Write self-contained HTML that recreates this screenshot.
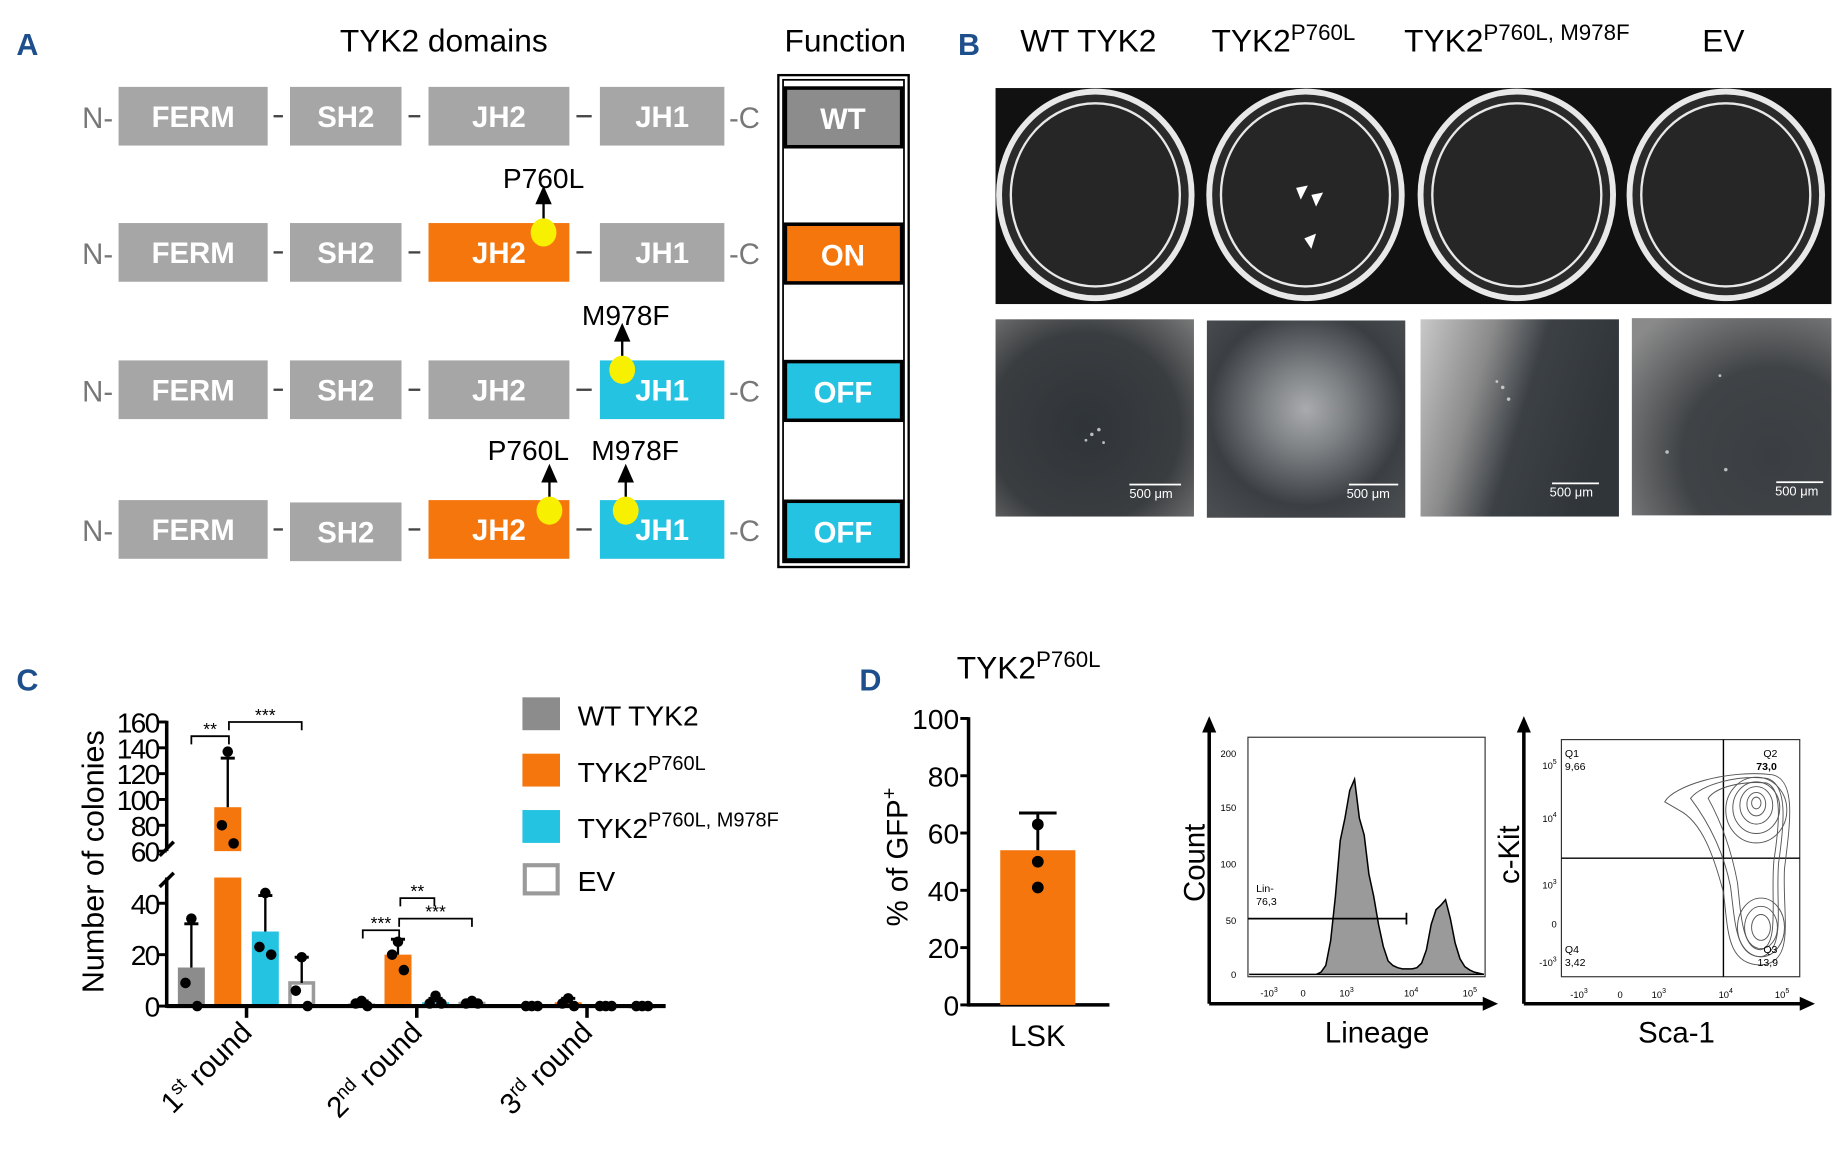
<!DOCTYPE html>
<html><head><meta charset="utf-8">
<style>
html,body{margin:0;padding:0;background:#fff;}
svg{display:block;font-family:"Liberation Sans",Arial,sans-serif;}
.lbl{font-weight:bold;fill:#1d4f8c;font-size:26px;}
.dom{fill:#fff;font-weight:bold;font-size:25px;text-anchor:middle;}
.nc{fill:#777;font-size:25px;}
.hd{font-size:27px;fill:#000;}
</style></head><body>
<svg id="fig" width="1842" height="1154" viewBox="0 0 1569 983" preserveAspectRatio="none">
<defs>
<radialGradient id="mg1" cx="0.45" cy="0.55" r="0.8"><stop offset="0" stop-color="#2f3438"/><stop offset="0.6" stop-color="#3a3d40"/><stop offset="1" stop-color="#7d7d7d"/></radialGradient>
<radialGradient id="mg2" cx="0.5" cy="0.45" r="0.7"><stop offset="0" stop-color="#a9abae"/><stop offset="0.3" stop-color="#7e8184"/><stop offset="0.7" stop-color="#3b3f43"/><stop offset="1" stop-color="#4a4d50"/></radialGradient>
<linearGradient id="mg3" x1="0" y1="0" x2="1" y2="0.3"><stop offset="0" stop-color="#c8c8c8"/><stop offset="0.35" stop-color="#8a8a8a"/><stop offset="0.6" stop-color="#3c4146"/><stop offset="1" stop-color="#30353a"/></linearGradient>
<radialGradient id="mg4" cx="0.7" cy="0.7" r="0.9"><stop offset="0" stop-color="#3a3e42"/><stop offset="0.5" stop-color="#404346"/><stop offset="1" stop-color="#8a8a8a"/></radialGradient>
</defs>

<!-- Panel A -->
<g>
<text x="14" y="47" class="lbl">A</text>
<text x="378" y="44" class="hd" text-anchor="middle">TYK2 domains</text>
<text x="720" y="44" class="hd" text-anchor="middle">Function</text>
<rect x="663" y="64" width="111" height="419" fill="none" stroke="#000" stroke-width="2"/>
<rect x="667" y="68" width="103" height="411" fill="none" stroke="#000" stroke-width="1.5"/>
<g id="rows"></g>
</g>

<!-- Panel B -->
<g>
<text x="816" y="47" class="lbl">B</text>
<text x="927" y="44" class="hd" text-anchor="middle">WT TYK2</text>
<text x="1032" y="44" class="hd">TYK2<tspan dy="-10" font-size="19">P760L</tspan></text>
<text x="1196" y="44" class="hd">TYK2<tspan dy="-10" font-size="19">P760L, M978F</tspan></text>
<text x="1468" y="44" class="hd" text-anchor="middle">EV</text>
<rect x="848" y="75" width="712" height="184" fill="#111"/>
<g fill="#2a2a2a" stroke="#e8e8e8">
<ellipse cx="933" cy="166" rx="82" ry="88" stroke-width="5"/><ellipse cx="933" cy="166" rx="72" ry="78" stroke-width="2" fill="#262626"/>
<ellipse cx="1112" cy="166" rx="82" ry="88" stroke-width="5"/><ellipse cx="1112" cy="166" rx="72" ry="78" stroke-width="2" fill="#262626"/>
<ellipse cx="1292" cy="166" rx="82" ry="88" stroke-width="5"/><ellipse cx="1292" cy="166" rx="72" ry="78" stroke-width="2" fill="#262626"/>
<ellipse cx="1470" cy="166" rx="82" ry="88" stroke-width="5"/><ellipse cx="1470" cy="166" rx="72" ry="78" stroke-width="2" fill="#262626"/>
</g>
<g fill="#fff"><polygon points="1104,160 1114,158 1108,170"/><polygon points="1117,166 1127,164 1121,176"/><polygon points="1111,203 1121,199 1117,212"/></g>
<rect x="848" y="272" width="169" height="168" fill="url(#mg1)"/>
<rect x="1028" y="273" width="169" height="168" fill="url(#mg2)"/>
<rect x="1210" y="272" width="169" height="168" fill="url(#mg3)"/>
<rect x="1390" y="271" width="170" height="168" fill="url(#mg4)"/>
<g fill="#ddd" opacity="0.8"><circle cx="930" cy="370" r="1.5"/><circle cx="936" cy="366" r="1.5"/><circle cx="925" cy="375" r="1.2"/><circle cx="940" cy="377" r="1.2"/><circle cx="1280" cy="330" r="1.5"/><circle cx="1285" cy="340" r="1.5"/><circle cx="1275" cy="325" r="1.2"/><circle cx="1420" cy="385" r="1.5"/><circle cx="1470" cy="400" r="1.5"/><circle cx="1465" cy="320" r="1.2"/></g>
<g fill="#fff" font-size="11"><rect x="962" y="412" width="44" height="1.5"/><text x="962" y="424">500 μm</text>
<rect x="1149" y="412" width="42" height="1.5"/><text x="1147" y="424">500 μm</text>
<rect x="1322" y="411" width="40" height="1.5"/><text x="1320" y="423">500 μm</text>
<rect x="1513" y="410" width="40" height="1.5"/><text x="1512" y="422">500 μm</text></g>
</g>

<!-- Panel C -->
<g id="panelC">
<text x="14" y="588" class="lbl">C</text>
<text transform="translate(88,734) rotate(-90)" font-size="26" text-anchor="middle">Number of colonies</text>
<g id="legendC" font-size="24"></g>
</g>

<!-- Panel D -->
<g id="panelD">
<text x="732" y="588" class="lbl">D</text>
<text x="815" y="578" class="hd" font-size="26">TYK2<tspan dy="-10" font-size="19">P760L</tspan></text>
<text transform="translate(773,730) rotate(-90)" font-size="25" text-anchor="middle">% of GFP<tspan dy="-10" font-size="17">+</tspan></text>
</g>

<!-- Flow histogram -->
<g id="flowHist">
<line x1="1030" y1="855" x2="1030" y2="622" stroke="#000" stroke-width="3"/><polygon points="1024,624 1036,624 1030,610" fill="#000"/>
<line x1="1030" y1="855" x2="1265" y2="855" stroke="#000" stroke-width="3"/><polygon points="1263,849 1263,861 1276,855" fill="#000"/>
<rect x="1063" y="628" width="202" height="204" fill="none" stroke="#333" stroke-width="1"/>
<text transform="translate(1026,735) rotate(-90)" font-size="25" text-anchor="middle">Count</text>
<text x="1173" y="888" font-size="25" text-anchor="middle">Lineage</text>
<g font-size="8" text-anchor="end"><text x="1053" y="645">200</text><text x="1053" y="691">150</text><text x="1053" y="739">100</text><text x="1053" y="787">50</text><text x="1053" y="833">0</text></g>
<g font-size="8" text-anchor="middle"><text x="1081" y="849">-10<tspan dy="-4" font-size="6">3</tspan></text><text x="1110" y="849">0</text><text x="1147" y="849">10<tspan dy="-4" font-size="6">3</tspan></text><text x="1202" y="849">10<tspan dy="-4" font-size="6">4</tspan></text><text x="1252" y="849">10<tspan dy="-4" font-size="6">5</tspan></text></g>
<text x="1070" y="760" font-size="9">Lin-</text><text x="1070" y="771" font-size="9">76,3</text>
</g>

<!-- Contour plot -->
<g>
<line x1="1298" y1="855" x2="1298" y2="622" stroke="#000" stroke-width="3"/><polygon points="1292,624 1304,624 1298,610" fill="#000"/>
<line x1="1298" y1="855" x2="1535" y2="855" stroke="#000" stroke-width="3"/><polygon points="1533,849 1533,861 1546,855" fill="#000"/>
<rect x="1330" y="630" width="203" height="202" fill="none" stroke="#333" stroke-width="1"/>
<line x1="1468" y1="630" x2="1468" y2="832" stroke="#000" stroke-width="1.2"/>
<line x1="1330" y1="731" x2="1533" y2="731" stroke="#000" stroke-width="1.2"/>
<g fill="none" stroke="#555" stroke-width="0.8">
<path d="M1418,683 C1425,670 1470,655 1510,660 C1530,665 1525,700 1520,740 C1518,780 1530,820 1500,822 C1470,822 1472,790 1468,760 C1460,730 1450,700 1430,690 Z"/>
<path d="M1440,680 C1450,668 1480,660 1505,663 C1523,668 1520,700 1515,735 C1512,770 1522,810 1500,815 C1478,815 1478,785 1474,755 C1468,725 1455,700 1440,680 Z"/>
<path d="M1455,680 C1462,670 1485,665 1505,667 C1518,672 1516,700 1511,733 C1508,765 1516,805 1500,809 C1484,809 1483,780 1480,752 C1475,725 1466,700 1455,680 Z"/>
<ellipse cx="1496" cy="690" rx="26" ry="28"/><ellipse cx="1496" cy="688" rx="20" ry="22"/><ellipse cx="1496" cy="686" rx="14" ry="16"/><ellipse cx="1496" cy="685" rx="8" ry="10"/><ellipse cx="1496" cy="684" rx="4" ry="5"/>
<ellipse cx="1500" cy="790" rx="20" ry="25"/><ellipse cx="1500" cy="790" rx="14" ry="18"/><ellipse cx="1500" cy="790" rx="8" ry="11"/>
</g>
<text transform="translate(1294,728) rotate(-90)" font-size="25" text-anchor="middle">c-Kit</text>
<text x="1428" y="888" font-size="25" text-anchor="middle">Sca-1</text>
<g font-size="9"><text x="1333" y="645">Q1</text><text x="1333" y="656">9,66</text><text x="1502" y="645">Q2</text><text x="1496" y="656" font-weight="bold">73,0</text><text x="1333" y="812">Q4</text><text x="1333" y="823">3,42</text><text x="1502" y="812">Q3</text><text x="1497" y="823">13,9</text></g>
<g font-size="8" text-anchor="end"><text x="1326" y="655">10<tspan dy="-4" font-size="6">5</tspan></text><text x="1326" y="700">10<tspan dy="-4" font-size="6">4</tspan></text><text x="1326" y="757">10<tspan dy="-4" font-size="6">3</tspan></text><text x="1326" y="790">0</text><text x="1326" y="823">-10<tspan dy="-4" font-size="6">3</tspan></text></g>
<g font-size="8" text-anchor="middle"><text x="1345" y="850">-10<tspan dy="-4" font-size="6">3</tspan></text><text x="1380" y="850">0</text><text x="1413" y="850">10<tspan dy="-4" font-size="6">3</tspan></text><text x="1470" y="850">10<tspan dy="-4" font-size="6">4</tspan></text><text x="1518" y="850">10<tspan dy="-4" font-size="6">5</tspan></text></g>
</g>
</svg>
<script>
// ---- Panel C data ----
var rounds = ["1st", "2nd", "3rd"];
var seriesNames = ["WT TYK2", "TYK2P760L", "TYK2P760L, M978F", "EV"];
var meanWT = [15, 1, 0];
var meanP760L = [94, 20, 1.5];
var meanDouble = [29, 1.5, 0];
var meanEV = [9, 1, 0];
var errWT = [32, 2, 0];
var errP760L = [132, 26, 3];
var errDouble = [43, 3, 0];
var errEV = [19, 2, 0];
var ptsWT = [[34, 9, 0], [2, 1, 0], [0, 0, 0]];
var ptsP760L = [[137, 80, 66], [25, 20, 14], [3, 1, 0]];
var ptsDouble = [[44, 23, 20], [4, 1, 1], [0, 0, 0]];
var ptsEV = [[19, 6, 0], [2, 1, 1], [0, 0, 0]];
var lowTicks = [0, 20, 40];
var highTicks = [60, 80, 100, 120, 140, 160];
// ---- Panel D data ----
var lskMean = [54];
var lskErr = [67];
var lskPts = [63, 50, 41];
var gfpTicks = [0, 20, 40, 60, 80, 100];
// ---- Histogram data ----
var histCounts = [0,0,0,0,0,0,0,0,0,0,0,0,0,0,0,2,8,30,70,120,140,165,175,140,125,90,70,45,25,12,8,6,5,5,5,6,10,22,45,58,62,67,50,28,14,7,4,2,1,0];

var NS = "http://www.w3.org/2000/svg";
function mk(tag, attrs, parent) { var e = document.createElementNS(NS, tag); for (var k in attrs) e.setAttribute(k, attrs[k]); parent.appendChild(e); return e; }

// Panel A rows
(function () {
  var g = document.getElementById('rows');
  var rowsY = [74, 190, 307, 426];
  var jh2C = ['#a6a6a6', '#f5760d', '#a6a6a6', '#f5760d'];
  var jh1C = ['#a6a6a6', '#a6a6a6', '#25c3e2', '#25c3e2'];
  var fn = [['WT', '#8c8c8c'], ['ON', '#f5760d'], ['OFF', '#25c3e2'], ['OFF', '#25c3e2']];
  rowsY.forEach(function (y, i) {
    var row = mk('g', {}, g);
    
    
    var doms = [['FERM', 101, 127, '#a6a6a6'], ['SH2', 247, 95, '#a6a6a6'], ['JH2', 365, 120, jh2C[i]], ['JH1', 511, 106, jh1C[i]]];
    doms.forEach(function (d) {
      var yy = (i == 3 && d[0] == 'SH2') ? y + 2 : y;
      mk('rect', { x: d[1], y: yy, width: d[2], height: 50, fill: d[3] }, row);
      var t = mk('text', { x: d[1] + d[2] / 2, y: yy + 34, 'class': 'dom' }, row); t.textContent = d[0];
    });
    var t1 = mk('text', { x: 70, y: y + 35, 'class': 'nc' }, row); t1.textContent = 'N-';
    var t2 = mk('text', { x: 621, y: y + 35, 'class': 'nc' }, row); t2.textContent = '-C';
    [[231, 243], [346, 360], [489, 506]].forEach(function (s) { mk('line', { x1: s[0] + 2, x2: s[1] - 2, y1: y + 25, y2: y + 25, stroke: '#444', 'stroke-width': 2 }, row); });
    mk('rect', { x: 669, y: y + 1, width: 99, height: 50, fill: fn[i][1], stroke: '#000', 'stroke-width': 3 }, row);
    var ft = mk('text', { x: 718, y: y + 36, 'class': 'dom' }, row); ft.textContent = fn[i][0];
  });
  var muts = [[463, 198, 'P760L', 463, 160], [530, 315, 'M978F', 533, 277], [468, 435, 'P760L', 450, 392], [533, 435, 'M978F', 541, 392]];
  muts.forEach(function (m) {
    mk('line', { x1: m[0], x2: m[0], y1: m[1] - 10, y2: m[1] - 28, stroke: '#000', 'stroke-width': 2 }, g);
    mk('polygon', { points: (m[0] - 7) + ',' + (m[1] - 24) + ' ' + (m[0] + 7) + ',' + (m[1] - 24) + ' ' + m[0] + ',' + (m[1] - 40), fill: '#000' }, g);
    mk('ellipse', { cx: m[0], cy: m[1], rx: 11, ry: 12, fill: '#f7f000' }, g);
    var t = mk('text', { x: m[3], y: m[4], 'font-size': 24, 'text-anchor': 'middle' }, g); t.textContent = m[2];
  });
})();

// Panel C chart
(function () {
  var g = document.getElementById('panelC');
  var axX = 142, base = 857;
  function yv(v) { return v <= 50 ? base - v * 2.19 : 725 - (v - 60) * 1.1; }
  function gx(r) { return 210 + r * 145; }
  var offs = [-47, -16, 16, 47];
  var cols = ['#8c8c8c', '#f5760d', '#25c3e2', '#ffffff'];
  var means = [meanWT, meanP760L, meanDouble, meanEV];
  var errs = [errWT, errP760L, errDouble, errEV];
  var pts = [ptsWT, ptsP760L, ptsDouble, ptsEV];
  var jit = [0, -5, 5];
  var bw = 23;
  for (var r = 0; r < rounds.length; r++) {
    for (var s = 0; s < 4; s++) {
      var cx = gx(r) + offs[s], m = means[s][r];
      var stroke = s == 3 ? '#9a9a9a' : 'none';
      if (m > 50) {
        var b1 = mk('rect', { x: cx - bw / 2, y: yv(50), width: bw, height: base - yv(50), fill: cols[s] }, g);
        
        
        var b2 = mk('rect', { x: cx - bw / 2, y: yv(m), width: bw, height: yv(60) - yv(m), fill: cols[s] }, g);
        
        
      } else {
        var h = base - yv(m);
        var b = mk('rect', { x: cx - bw / 2 + (s == 3 ? 1.5 : 0), y: yv(m), width: bw - (s == 3 ? 3 : 0), height: Math.max(h, 0.5), fill: cols[s], stroke: stroke, 'stroke-width': s == 3 ? 3 : 0 }, g);
        
        
      }
      var e = errs[s][r];
      if (e > m) {
        mk('line', { x1: cx, x2: cx, y1: yv(m), y2: yv(e), stroke: '#000', 'stroke-width': 2 }, g);
        mk('line', { x1: cx - 6, x2: cx + 6, y1: yv(e), y2: yv(e), stroke: '#000', 'stroke-width': 2.5 }, g);
      }
      for (var k = 0; k < 3; k++) {
        var d = mk('circle', { cx: cx + jit[k], cy: yv(pts[s][r][k]), r: 4.5, fill: '#000' }, g);
        
        
      }
    }
    mk('line', { x1: gx(r), x2: gx(r), y1: base, y2: base + 10, stroke: '#000', 'stroke-width': 3 }, g);
    var lt = mk('text', { transform: 'translate(' + (gx(r) + 6) + ',' + (base + 24) + ') rotate(-45)', 'font-size': 25, 'text-anchor': 'end' }, g);
    
    
    var num = rounds[r].slice(0, 1), suf = rounds[r].slice(1);
    lt.innerHTML = num + '<tspan dy="-9" font-size="16">' + suf + '</tspan><tspan dy="9"> round</tspan>';
  }
  // axes
  mk('line', { x1: axX, x2: 567, y1: base, y2: base, stroke: '#000', 'stroke-width': 3.5 }, g);
  mk('line', { x1: axX, x2: axX, y1: base + 1.5, y2: yv(50), stroke: '#000', 'stroke-width': 3 }, g);
  mk('line', { x1: axX, x2: axX, y1: yv(60), y2: yv(160) - 1, stroke: '#000', 'stroke-width': 3 }, g);
  mk('line', { x1: axX - 6, x2: axX + 6, y1: yv(50) + 8, y2: yv(50) - 4, stroke: '#000', 'stroke-width': 3 }, g);
  mk('line', { x1: axX - 6, x2: axX + 6, y1: yv(60) + 4, y2: yv(60) - 8, stroke: '#000', 'stroke-width': 3 }, g);
  lowTicks.concat(highTicks).forEach(function (t) {
    mk('line', { x1: axX - 7, x2: axX, y1: yv(t), y2: yv(t), stroke: '#000', 'stroke-width': 2.5 }, g);
    var tx = mk('text', { x: axX - 7, y: yv(t) + 9, 'font-size': 24, 'text-anchor': 'end', 'letter-spacing': '-1.5' }, g);
    
    
    tx.textContent = t;
  });
  // significance brackets
  var sig = [[163, 195, 149, '**'], [195, 257, 160, '***'], [309, 340, 29.5, '***'], [341, 370, 42, '**'], [340, 402, 34, '***']];
  sig.forEach(function (b) {
    var y = yv(b[2]);
    mk('path', { d: 'M' + b[0] + ',' + (y + 7) + ' V' + y + ' H' + b[1] + ' V' + (y + 7), fill: 'none', stroke: '#000', 'stroke-width': 1.5 }, g);
    var t = mk('text', { x: (b[0] + b[1]) / 2, y: y - 1, 'font-size': 15, 'text-anchor': 'middle' }, g); t.textContent = b[3];
  });
  // legend
  var lg = document.getElementById('legendC');
  var ly = [594, 642, 690, 735];
  var lc = ['#8c8c8c', '#f5760d', '#25c3e2', '#fff'];
  for (var i = 0; i < 4; i++) {
    var sw = mk('rect', { x: i == 3 ? 447 : 445, y: i == 3 ? ly[i] + 2 : ly[i], width: i == 3 ? 28 : 32, height: i == 3 ? 24 : 28, fill: lc[i], stroke: i == 3 ? '#9a9a9a' : 'none', 'stroke-width': 3.5 }, lg);
    
    
    var t = mk('text', { x: 492, y: ly[i] + 24 }, lg);
    
    
    if (i == 1) t.innerHTML = 'TYK2<tspan dy="-10" font-size="17">P760L</tspan>';
    else if (i == 2) t.innerHTML = 'TYK2<tspan dy="-10" font-size="17">P760L, M978F</tspan>';
    else t.textContent = seriesNames[i];
  }
})();

// Panel D bar
(function () {
  var g = document.getElementById('panelD');
  var axX = 825, base = 856;
  function yv(v) { return base - v * 2.44; }
  mk('line', { x1: axX, x2: 945, y1: base, y2: base, stroke: '#000', 'stroke-width': 3 }, g);
  mk('line', { x1: axX, x2: axX, y1: base + 1.5, y2: yv(100) - 1, stroke: '#000', 'stroke-width': 3 }, g);
  gfpTicks.forEach(function (t) {
    mk('line', { x1: axX - 7, x2: axX, y1: yv(t), y2: yv(t), stroke: '#000', 'stroke-width': 2.5 }, g);
    var tx = mk('text', { x: axX - 8, y: yv(t) + 9, 'font-size': 24, 'text-anchor': 'end' }, g);
    
    
    tx.textContent = t;
  });
  var cx = 884;
  var b = mk('rect', { x: cx - 32, y: yv(lskMean[0]), width: 64, height: base - yv(lskMean[0]), fill: '#f5760d' }, g);
  
  
  mk('line', { x1: cx, x2: cx, y1: yv(lskMean[0]), y2: yv(lskErr[0]), stroke: '#000', 'stroke-width': 2.5 }, g);
  mk('line', { x1: cx - 16, x2: cx + 16, y1: yv(lskErr[0]), y2: yv(lskErr[0]), stroke: '#000', 'stroke-width': 2.5 }, g);
  lskPts.forEach(function (p) {
    var d = mk('circle', { cx: cx, cy: yv(p), r: 5, fill: '#000' }, g);
    
    
  });
  var t = mk('text', { x: cx, y: 891, 'font-size': 25, 'text-anchor': 'middle' }, g); t.textContent = 'LSK';
})();

// Histogram
(function () {
  var g = document.getElementById('flowHist');
  var x0 = 1064, x1 = 1264;
  function yv(c) { return 830 - c * 0.95; }
  var n = histCounts.length, d = 'M' + x0 + ',' + yv(0);
  histCounts.forEach(function (c, i) { d += ' L' + (x0 + (x1 - x0) * i / (n - 1)).toFixed(1) + ',' + yv(c).toFixed(1); });
  d += ' L' + x1 + ',' + yv(0) + ' Z';
  var p = mk('path', { d: d, fill: '#9a9a9a', stroke: '#000', 'stroke-width': 1.3 }, g);
  
  
  mk('line', { x1: 1063, x2: 1198, y1: yv(50), y2: yv(50), stroke: '#000', 'stroke-width': 1.5 }, g);
  mk('line', { x1: 1198, x2: 1198, y1: yv(50) - 5, y2: yv(50) + 5, stroke: '#000', 'stroke-width': 1.5 }, g);
})();
</script>
</body></html>
